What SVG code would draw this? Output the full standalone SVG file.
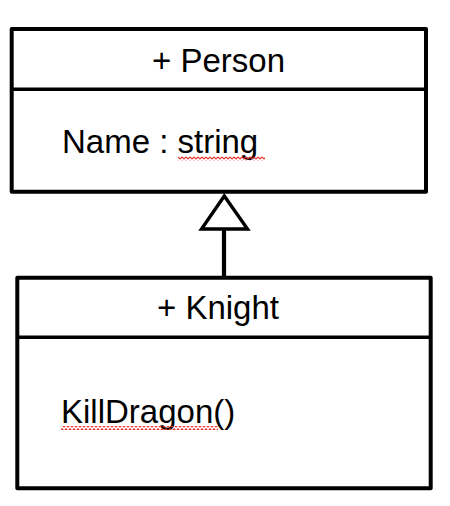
<svg xmlns="http://www.w3.org/2000/svg" width="450" height="506" viewBox="0 0 450 506">
<style>
.box{fill:#fff;stroke:#000;stroke-width:4;stroke-linejoin:round}
.div{stroke:#000;stroke-width:3.4}
.t{font-family:"Liberation Sans",Arial,sans-serif;font-size:33px;fill:#000}
.c{text-anchor:middle}
.conn{stroke:#000;stroke-width:4.2;fill:none}
.head{fill:#fff;stroke:#000;stroke-width:3.4;stroke-linejoin:miter}
</style>
<defs>
<pattern id="wave" x="0" y="0" width="4" height="4" patternUnits="userSpaceOnUse">
<polyline points="0,3.2 2,0.8 4,3.2" fill="none" stroke="#e3312b" stroke-width="1.1"/>
</pattern>
</defs>
<rect width="450" height="506" fill="#fff"/>
<g id="edges">
<line class="conn" x1="224" y1="229" x2="224" y2="277"/>
<polygon class="head" points="224.3,196 201.5,229 247.5,229"/>
</g>
<g id="person">
<rect class="box" x="11.7" y="29" width="414.3" height="162.7"/>
<line class="div" x1="11.7" y1="89.3" x2="426" y2="89.3"/>
<text class="t c" x="218.5" y="72">+ Person</text>
<text class="t" x="62" y="153">Name : string</text>
<rect x="178" y="156.5" width="87" height="4" fill="url(#wave)"/>
</g>
<g id="knight">
<rect class="box" x="17.3" y="277.7" width="413.4" height="210.6"/>
<line class="div" x1="17.3" y1="337.2" x2="430.7" y2="337.2"/>
<text class="t c" x="218" y="319">+ Knight</text>
<text class="t" x="61" y="423">KillDragon()</text>
<rect x="61" y="426" width="157" height="4" fill="url(#wave)"/>
</g>
</svg>
